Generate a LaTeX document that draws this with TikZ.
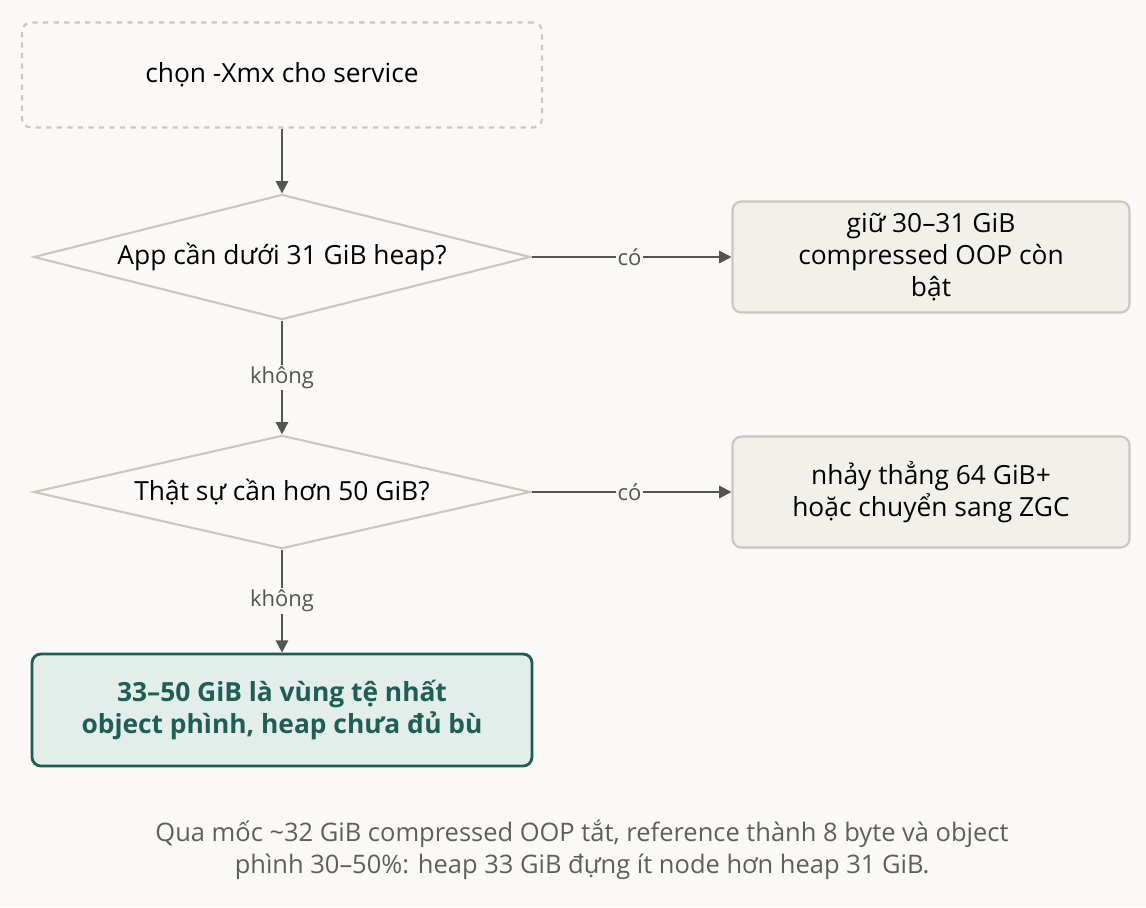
\documentclass[tikz,border=0pt]{standalone}
\usepackage{fontspec}
\setmainfont{Open Sans}
\usetikzlibrary{shapes.geometric,arrows.meta,positioning}
\definecolor{bgc}{HTML}{FAF9F7}
\definecolor{edgec}{HTML}{C9C7BE}
\definecolor{arrc}{HTML}{555550}
\definecolor{boxc}{HTML}{F1F0EB}
\definecolor{tealc}{HTML}{1F5E55}
\definecolor{tealf}{HTML}{E3EEEB}
\definecolor{capc}{HTML}{5E5E5A}

\begin{document}
\begin{tikzpicture}[
    x=0.02cm, y=-0.02cm,
    font=\fontsize{15}{18}\selectfont,
    start/.style={rectangle, rounded corners=5pt, draw=edgec, dashed, line width=1.2pt, fill=bgc, minimum width=10.4cm, minimum height=2.1cm},
    decide/.style={diamond, draw=edgec, line width=1.2pt, fill=bgc, aspect=3.38, minimum width=9.94cm, inner sep=0pt},
    result/.style={rectangle, rounded corners=5pt, draw=edgec, line width=1.2pt, fill=boxc, minimum width=7.94cm, minimum height=2.22cm, align=center},
    worst/.style={rectangle, rounded corners=5pt, draw=tealc, line width=1.6pt, fill=tealf, minimum width=10cm, minimum height=2.24cm, align=center, text=tealc, font=\fontsize{15}{18}\selectfont\bfseries},
    flow/.style={-{Triangle[length=7pt,width=7pt]}, draw=arrc, line width=1.2pt},
    lbl/.style={fill=bgc, inner sep=1pt, text=arrc, font=\fontsize{12.5}{14}\selectfont}
]
    % background and frame
    \fill[bgc] (0,0) rectangle (1146,907);

    % main column
    \node[start] (pick) at (282,75) {chọn -Xmx cho service};
    \node[decide] (q1) at (282,257) {App cần dưới 31 GiB heap?};
    \node[decide] (q2) at (282,492) {Thật sự cần hơn 50 GiB?};
    \node[worst] (bad) at (282,710) {33–50 GiB là vùng tệ nhất\\object phình, heap chưa đủ bù};

    % side results
    \node[result] (keep) at (931,257) {giữ 30–31 GiB\\compressed OOP còn\\bật};
    \node[result] (jump) at (931,492) {nhảy thẳng 64 GiB+\\hoặc chuyển sang ZGC};

    % connectors
    \draw[flow] (pick) -- (q1);
    \draw[flow] (q1) -- node[lbl] {không} (q2);
    \draw[flow] (q2) -- node[lbl] {không} (bad);
    \draw[flow] (q1) -- node[lbl, pos=0.49] {có} (keep);
    \draw[flow] (q2) -- node[lbl, pos=0.49] {có} (jump);

    % caption
    \node[align=center, text=capc, font=\fontsize{14.5}{18}\selectfont] (note) at (582,850)
        {Qua mốc \textasciitilde32 GiB compressed OOP tắt, reference thành 8 byte và object\\phình 30–50\%: heap 33 GiB đựng ít node hơn heap 31 GiB.};
\end{tikzpicture}
\end{document}
